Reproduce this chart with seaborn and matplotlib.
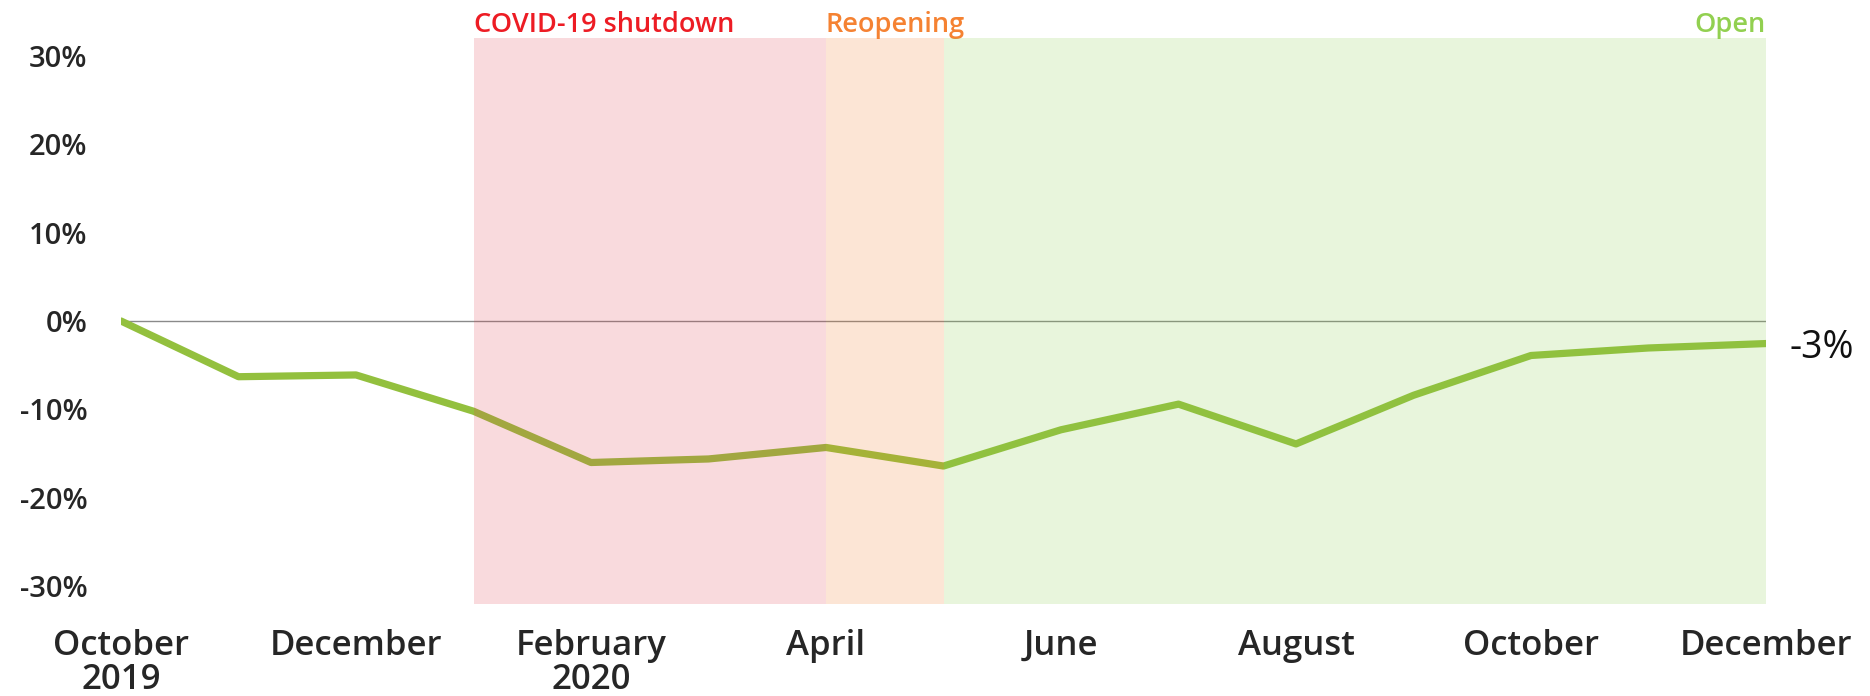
import matplotlib
matplotlib.use("Agg")
import matplotlib.pyplot as plt
import seaborn as sns
import pandas as pd

# monthly change vs. October 2019, in %
months = ["October\n2019", "November", "December", "January", "February\n2020",
          "March", "April", "May", "June", "July", "August", "September",
          "October", "November", "December"]
change = [0.0, -6.3, -6.1, -10.2, -16.0, -15.6, -14.3, -16.4,
          -12.3, -9.4, -13.9, -8.4, -3.9, -3.05, -2.55]
yticks = [30, 20, 10, 0, -10, -20, -30]

# phases: label, start month index, end month index, fill colour, text colour
phase_names = ["COVID-19 shutdown", "Reopening", "Open"]
phase_start = [3, 6, 7]
phase_end = [6, 7, 14]
phase_fill = ["#e43c4c", "#f47622", "#86ca46"]
phase_text = ["#ed1c24", "#f58232", "#92d050"]

df = pd.DataFrame({"idx": range(len(months)), "month": months, "change": change})

sns.set_style("white")
plt.rcParams["font.family"] = ["Open Sans", "DejaVu Sans"]

fig = plt.figure(figsize=(18.7, 6.96), dpi=100)
ax = fig.add_axes([121 / 1870, 92 / 696, (1766 - 121) / 1870, 566 / 696])

ax.axhline(0, color="#8a8a8a", lw=1, zorder=1)
sns.lineplot(data=df, x="idx", y="change", color="#93c03e", lw=5.2,
             solid_capstyle="round", ax=ax, zorder=2)

for name, s, e, fc, tc in zip(phase_names, phase_start, phase_end, phase_fill, phase_text):
    ax.axvspan(s, e, color=fc, alpha=0.19, lw=0, antialiased=False, zorder=3)
    if name == "Open":
        ax.annotate(name, xy=(e, 1), xycoords=("data", "axes fraction"),
                    xytext=(0, 4), textcoords="offset points", ha="right",
                    va="baseline", fontsize=19.5, fontweight=600, color=tc)
    else:
        ax.annotate(name, xy=(s, 1), xycoords=("data", "axes fraction"),
                    xytext=(0, 4), textcoords="offset points", ha="left",
                    va="baseline", fontsize=19.5, fontweight=600, color=tc)

ax.annotate(f"{round(change[-1])}%", xy=(len(change) - 1, change[-1]),
            xytext=(17, -3), textcoords="offset points", ha="left",
            va="center", fontsize=27, color="#111111")

ax.set_xlim(0, len(months) - 1)
ax.set_ylim(-32, 32)
ax.set_xticks(range(0, len(months), 2))
ax.set_xticklabels(months[::2], fontsize=25, fontweight=600, color="#262626",
                   linespacing=1.0)
ax.set_yticks(yticks)
ax.set_yticklabels([f"{t}%" for t in yticks], fontsize=21, fontweight=600,
                   color="#262626")
ax.tick_params(axis="y", length=0, pad=24)
ax.tick_params(axis="x", length=0, pad=18)
ax.set_xlabel("")
ax.set_ylabel("")
sns.despine(ax=ax, left=True, bottom=True)
ax.set_facecolor("none")

fig.savefig("out.png", dpi=100)
